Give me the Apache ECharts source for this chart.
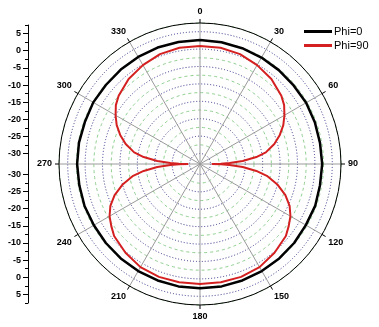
<!DOCTYPE html>
<html>
<head>
<meta charset="utf-8">
<script src="https://cdn.jsdelivr.net/npm/echarts@6/dist/echarts.min.js"></script>
<style>html,body{margin:0;padding:0;background:#fff;}#c{width:379px;height:327px;}</style>
</head>
<body>
<div id="c"></div>
<script>
// ---- data ----
const angleLabels = ['0','30','60','90','120','150','180','210','240','270','300','330'];
const radiusTicks = [-30,-25,-20,-15,-10,-5,0,5];
const radiusMinorTicks = [-27.5,-22.5,-17.5,-12.5,-7.5,-2.5,2.5,7.5];

const phi0Angles = [0,10,20,30,40,50,60,70,80,90,100,110,120,130,140,150,160,170,180,190,200,210,220,230,240,250,260,270,280,290,300,310,320,330,340,350,360];
const phi0Values = [2.6,2.5,2.4,2.3,2.2,2.1,2.2,2.1,2.0,2.1,2.0,2.2,2.1,2.3,2.4,2.5,2.6,2.7,2.7,2.7,2.6,2.5,2.4,2.3,2.2,2.3,2.2,2.3,2.3,2.2,2.4,2.3,2.4,2.5,2.6,2.6,2.6];

const phi90Angles = [0,10,20,30,40,50,55,60,65,70,75,80,83,86,88,89,90,91,92,94,97,100,105,110,115,120,125,130,140,150,160,170,180,
  190,200,210,220,230,235,240,245,250,255,260,263,266,268,269,270,271,272,274,277,280,285,290,295,300,305,310,320,330,340,350,360];
const phi90Values = [0.9,0.9,0.6,-0.2,-1.1,-2.5,-3.5,-5.0,-6.6,-8.6,-10.9,-13.8,-16.7,-20.7,-24.5,-27.0,-29.6,-27.0,-24.5,-20.7,-16.7,-13.5,-9.9,-6.9,-4.6,-3.0,-1.9,-0.8,0.3,1.2,1.5,1.5,1.5,
  1.5,1.5,1.2,0.3,-0.8,-1.9,-3.0,-4.6,-6.9,-9.9,-13.5,-16.7,-20.7,-24.5,-27.0,-29.6,-27.0,-24.5,-20.7,-16.7,-13.8,-10.9,-8.6,-6.6,-5.0,-3.5,-2.5,-1.1,-0.2,0.6,0.9,0.9];

const rMin = -33, rMax = 7.5;

// ---- chart ----
const chart = echarts.init(document.getElementById('c'), null, {renderer: 'canvas'});
const labelFont = {fontFamily: 'Liberation Sans', fontSize: 9, fontWeight: 'bold', color: '#000'};

function leftAxis(gridIndex, inverse) {
  return [
    {gridIndex, type: 'value', min: rMin, max: rMax, inverse, position: 'left',
     axisLine: {show: true, lineStyle: {color: '#000', width: 1}},
     axisTick: {show: true, length: 5, customValues: radiusTicks, lineStyle: {color: '#000'}},
     axisLabel: Object.assign({show: true, margin: 7, customValues: radiusTicks}, labelFont),
     splitLine: {show: false}},
    {gridIndex, type: 'value', min: rMin, max: rMax, inverse, position: 'left',
     axisLine: {show: false},
     axisTick: {show: true, length: 3, customValues: radiusMinorTicks, lineStyle: {color: '#000'}},
     axisLabel: {show: false},
     splitLine: {show: false}}
  ];
}

const option = {
  animation: false,
  backgroundColor: '#fff',
  legend: {
    orient: 'vertical', left: 299, top: 21, itemWidth: 28, itemHeight: 3, itemGap: 3,
    icon: 'rect',
    textStyle: {fontFamily: 'Liberation Sans', fontSize: 11, color: '#000', padding: [0,0,0,-3]},
    data: ['Phi=0', 'Phi=90']
  },
  grid: [
    {left: 28, top: 25, width: 1, height: 139},
    {left: 28, top: 164, width: 1, height: 139}
  ],
  xAxis: [
    {gridIndex: 0, type: 'value', show: false},
    {gridIndex: 1, type: 'value', show: false}
  ],
  yAxis: [].concat(leftAxis(0, false), leftAxis(1, true)),
  polar: [
    {center: [200, 164], radius: 141},
    {center: [200, 164], radius: 141}
  ],
  angleAxis: [
    {polarIndex: 0, type: 'value', min: 0, max: 360, interval: 30, startAngle: 90, clockwise: true, z: 3,
     axisLine: {show: true, lineStyle: {color: '#000', width: 1}},
     axisTick: {show: true, length: 4, lineStyle: {color: '#000'}},
     axisLabel: Object.assign({show: true, margin: 7,
       formatter: v => (v >= 360 ? '' : angleLabels[Math.round(v / 30)])}, labelFont),
     splitLine: {show: true, lineStyle: {color: '#9a9a9a', width: 1}}},
    {polarIndex: 1, type: 'value', min: 0, max: 360, interval: 30, startAngle: 90, clockwise: true, z: 1,
     axisLine: {show: false}, axisTick: {show: false}, axisLabel: {show: false}, splitLine: {show: false}}
  ],
  radiusAxis: [
    {polarIndex: 0, type: 'value', min: rMin, max: rMax, z: 2,
     axisLine: {show: false}, axisLabel: {show: false},
     axisTick: {show: false, customValues: radiusTicks},
     splitLine: {show: true, lineStyle: {color: '#33338a', width: 1, type: [1, 2]}}},
    {polarIndex: 1, type: 'value', min: rMin, max: rMax, z: 1,
     axisLine: {show: false}, axisLabel: {show: false},
     axisTick: {show: false, customValues: radiusMinorTicks},
     splitLine: {show: true, lineStyle: {color: '#8fcf8f', width: 1, type: [3, 3]}}}
  ],
  series: [
    {name: 'Phi=0', type: 'line', coordinateSystem: 'polar', polarIndex: 0, symbol: 'none', z: 5,
     lineStyle: {color: '#000', width: 2.5}, itemStyle: {color: '#000'},
     data: phi0Angles.map((a, i) => [phi0Values[i], a])},
    {name: 'Phi=90', type: 'line', coordinateSystem: 'polar', polarIndex: 0, symbol: 'none', z: 6,
     lineStyle: {color: '#d42020', width: 2}, itemStyle: {color: '#d42020'},
     data: phi90Angles.map((a, i) => [phi90Values[i], a])}
  ]
};
chart.setOption(option);
</script>
</body>
</html>
